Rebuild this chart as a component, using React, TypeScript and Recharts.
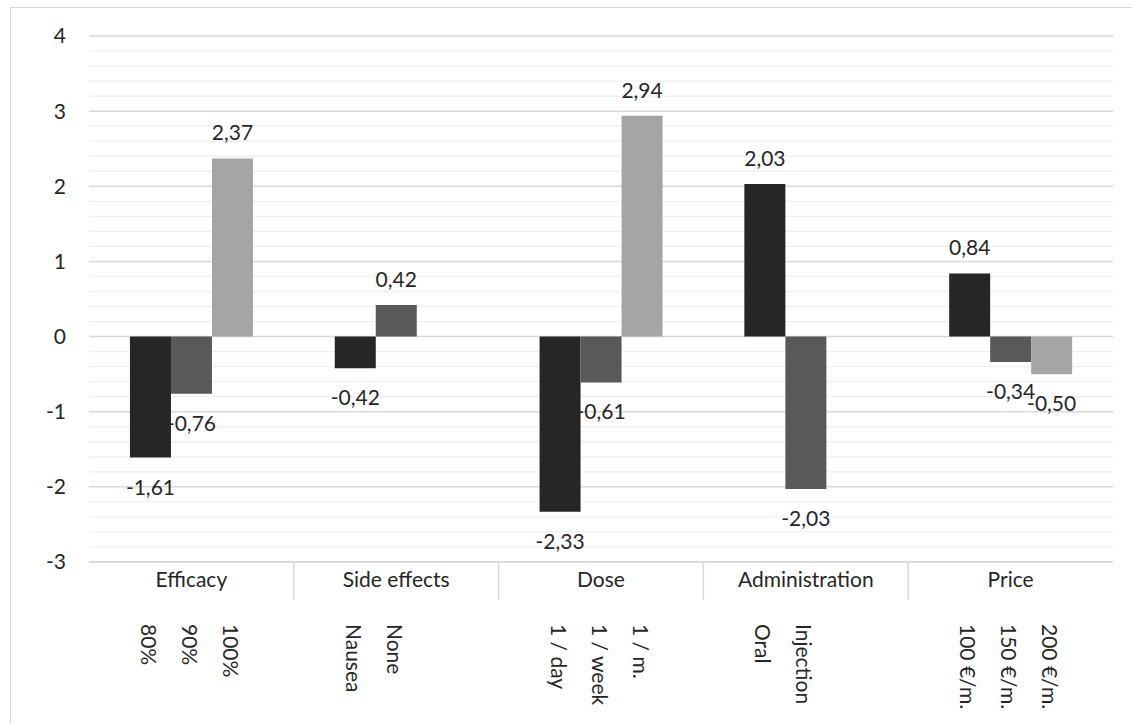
import React from 'react';
import { BarChart, Bar, XAxis, YAxis, CartesianGrid, LabelList } from 'recharts';

const categories = ['Efficacy', 'Side effects', 'Dose', 'Administration', 'Price'];
const series1: (number | null)[] = [-1.61, -0.42, -2.33, 2.03, 0.84];
const series2: (number | null)[] = [-0.76, 0.42, -0.61, -2.03, -0.34];
const series3: (number | null)[] = [2.37, null, 2.94, null, -0.5];
const labels1 = ['80%', 'Nausea', '1 / day', 'Oral', '100 €/m.'];
const labels2 = ['90%', 'None', '1 / week', 'Injection', '150 €/m.'];
const labels3 = ['100%', '', '1 / m.', '', '200 €/m.'];
const yDomain: [number, number] = [-3, 4];
const yTicks = [-3, -2, -1, 0, 1, 2, 3, 4];
const minorTicks = [
  -2.8, -2.6, -2.4, -2.2, -1.8, -1.6, -1.4, -1.2, -0.8, -0.6, -0.4, -0.2,
  0.2, 0.4, 0.6, 0.8, 1.2, 1.4, 1.6, 1.8, 2.2, 2.4, 2.6, 2.8, 3.2, 3.4, 3.6, 3.8,
];

const data = categories.map((name, i) => ({
  name,
  s1: series1[i],
  s2: series2[i],
  s3: series3[i],
  l1: labels1[i],
  l2: labels2[i],
  l3: labels3[i],
}));

const FONT = 'Lato, "Open Sans", sans-serif';
const TEXT = '#262626';
const FS = 21;

const fmt = (v: number) => v.toFixed(2).replace('.', ',');

const getBox = (props: any) => {
  const vb = props.viewBox || {};
  const x = props.x ?? vb.x;
  const y = props.y ?? vb.y;
  const width = props.width ?? vb.width;
  const height = props.height ?? vb.height;
  return { x: Number(x), y: Number(y), width: Number(width), height: Number(height) };
};

const ValueLabel = (props: any) => {
  const { value } = props;
  if (value == null || value === '') return null;
  const v = Number(value);
  const { x, y, width, height } = getBox(props);
  const cx = x + width / 2;
  const top = Math.min(y, y + height);
  const bottom = Math.max(y, y + height);
  const ty = v >= 0 ? top - 18 : bottom + 37;
  return (
    <text x={cx} y={ty} textAnchor="middle" fontFamily={FONT} fontSize={FS} fill={TEXT}>
      {fmt(v)}
    </text>
  );
};

const SubLabel = (props: any) => {
  const { value } = props;
  if (!value) return null;
  const { x, width } = getBox(props);
  const cx = x + width / 2 - 1;
  return (
    <text
      transform={`translate(${cx},616) rotate(90)`}
      textAnchor="start"
      dominantBaseline="central"
      fontFamily={FONT}
      fontSize={FS}
      fill={TEXT}
    >
      {value}
    </text>
  );
};

const CategoryTick = (props: any) => {
  const { x, y, payload, index, width, visibleTicksCount } = props;
  const bw =
    typeof width === 'number' && visibleTicksCount ? width / visibleTicksCount : 204.8;
  const sx = x - bw / 2;
  return (
    <g>
      {index > 0 && (
        <line x1={sx} x2={sx} y1={y} y2={y + 38} stroke="#d9d9d9" strokeWidth={1.5} />
      )}
      <text x={x} y={y + 25} textAnchor="middle" fontFamily={FONT} fontSize={FS} fill={TEXT}>
        {payload.value}
      </text>
    </g>
  );
};

const minorGen = (args: any) => {
  const yAxis = args && args.yAxis;
  if (yAxis && typeof yAxis.scale === 'function') {
    return minorTicks.map((t) => yAxis.scale(t));
  }
  if (yAxis && yAxis.scale && typeof yAxis.scale.map === 'function') {
    return minorTicks.map((t) => yAxis.scale.map(t));
  }
  const off = (args && args.offset) || {};
  const top = Number(off.top ?? 28);
  const h = Number(off.height ?? 526);
  const [lo, hi] = yDomain;
  return minorTicks.map((t) => top + ((hi - t) / (hi - lo)) * h);
};

export default function App() {
  return (
    <div
      style={{
        position: 'absolute',
        left: 10,
        top: 7,
        width: 1135,
        height: 730,
        border: '1px solid #d9d9d9',
        boxSizing: 'border-box',
        background: '#fff',
      }}
    >
      <BarChart
        width={1118}
        height={712}
        data={data}
        margin={{ top: 28, right: 16, left: 18, bottom: 8 }}
        barCategoryGap="20%"
        barGap={0}
      >
        <CartesianGrid
          vertical={false}
          stroke="#efefef"
          strokeWidth={1.3}
          horizontalCoordinatesGenerator={minorGen}
        />
        <CartesianGrid vertical={false} stroke="#d9d9d9" strokeWidth={1.5} />
        <XAxis
          dataKey="name"
          height={150}
          tickSize={0}
          tickMargin={0}
          tickLine={false}
          axisLine={{ stroke: '#d9d9d9', strokeWidth: 1.5 }}
          tick={<CategoryTick />}
          interval={0}
        />
        <YAxis
          domain={yDomain}
          ticks={yTicks}
          type="number"
          width={60}
          axisLine={false}
          tickLine={false}
          tickSize={0}
          tickMargin={23}
          tick={{ fontFamily: FONT, fontSize: FS, fill: TEXT }}
          interval={0}
        />
        <Bar dataKey="s1" fill="#262626" isAnimationActive={false}>
          <LabelList dataKey="s1" content={<ValueLabel />} />
          <LabelList dataKey="l1" content={<SubLabel />} />
        </Bar>
        <Bar dataKey="s2" fill="#595959" isAnimationActive={false}>
          <LabelList dataKey="s2" content={<ValueLabel />} />
          <LabelList dataKey="l2" content={<SubLabel />} />
        </Bar>
        <Bar dataKey="s3" fill="#a5a5a5" isAnimationActive={false}>
          <LabelList dataKey="s3" content={<ValueLabel />} />
          <LabelList dataKey="l3" content={<SubLabel />} />
        </Bar>
      </BarChart>
    </div>
  );
}
